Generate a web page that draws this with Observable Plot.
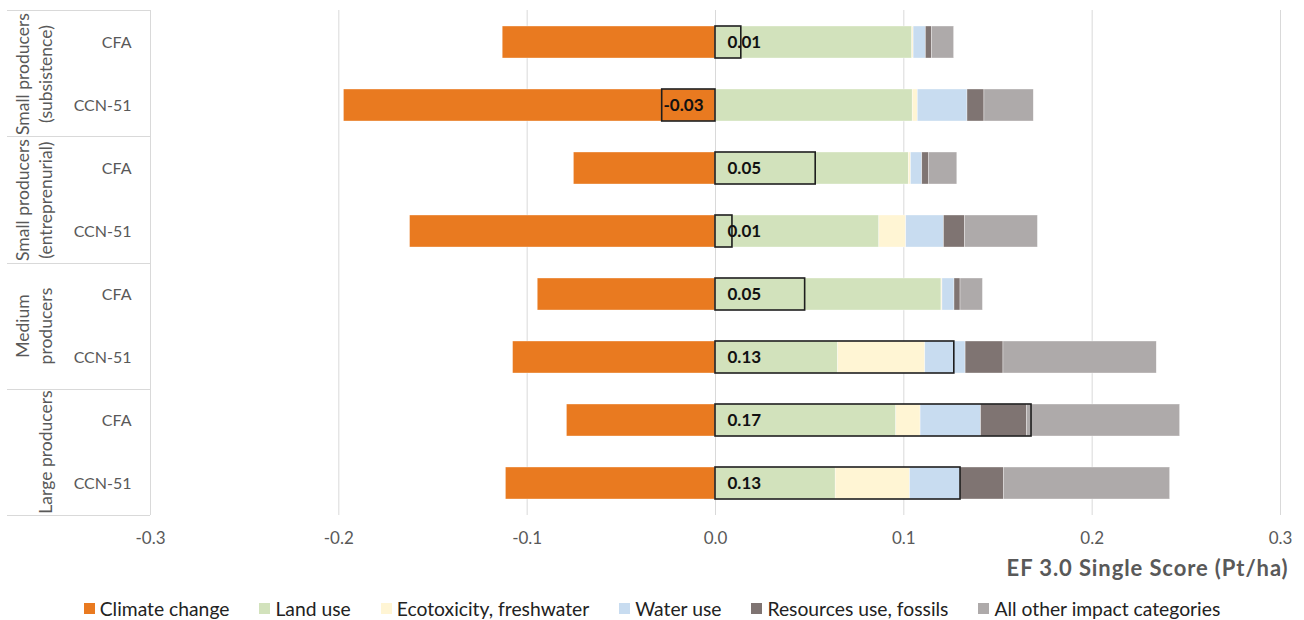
<!DOCTYPE html>
<html>
<head>
<meta charset="utf-8">
<script src="https://cdn.jsdelivr.net/npm/d3@7"></script>
<script src="https://cdn.jsdelivr.net/npm/@observablehq/plot@0.6"></script>
<style>
  html, body { margin: 0; padding: 0; background: #fff; }
  body { width: 1304px; height: 620px; overflow: hidden; font-family: Lato, "Open Sans", sans-serif; }
  #legend { display: flex; justify-content: center; align-items: center; height: 30px; padding-top: 3px; gap: 30px; font-size: 19.3px; color: #222; }
  #legend .item { display: flex; align-items: center; white-space: nowrap; }
  #legend .sw { width: 11px; height: 11px; margin-right: 5px; display: inline-block; }
</style>
</head>
<body>
<div id="chart"></div>
<div id="legend"></div>
<script>
// ---------- data ----------
const groups = ["Small producers\n(subsistence)", "Small producers\n(entreprenurial)", "Medium\nproducers", "Large producers"];
const varieties = ["CFA", "CCN-51"];
const categories = ["Climate change", "Land use", "Ecotoxicity, freshwater", "Water use", "Resources use, fossils", "All other impact categories"];
const colors = ["#E97A20", "#D2E2BC", "#FFF5D4", "#C8DCF0", "#7F7472", "#AEAAAA"];

// one value per row (group x variety, top to bottom)
const climateChange = [-0.1130, -0.1973, -0.0752, -0.1622, -0.0944, -0.1075, -0.0789, -0.1113];
const landUse       = [ 0.1045,  0.1047,  0.1026,  0.0870,  0.1200,  0.0651,  0.0960,  0.0638];
const ecotoxicity   = [ 0.0007,  0.0027,  0.0012,  0.0143,  0.0005,  0.0463,  0.0129,  0.0395];
const waterUse      = [ 0.0065,  0.0264,  0.0060,  0.0200,  0.0064,  0.0214,  0.0321,  0.0267];
const fossils       = [ 0.0033,  0.0090,  0.0037,  0.0111,  0.0032,  0.0201,  0.0245,  0.0233];
const allOther      = [ 0.0117,  0.0262,  0.0149,  0.0388,  0.0119,  0.0814,  0.0812,  0.0881];

const xTicks = [-0.3, -0.2, -0.1, 0, 0.1, 0.2, 0.3];
const xTickLabels = ["-0.3", "-0.2", "-0.1", "0.0", "0.1", "0.2", "0.3"];
const axisTitle = "EF 3.0 Single Score (Pt/ha)";

// ---------- derived tables ----------
const series = [climateChange, landUse, ecotoxicity, waterUse, fossils, allOther];
const rows = [];
groups.forEach((g, gi) => varieties.forEach((v, vi) => rows.push({key: gi + "|" + v, group: g, variety: v})));
const rowKeys = rows.map(r => r.key);

const long = [];
rows.forEach((r, i) => categories.forEach((c, ci) => long.push({row: r.key, category: c, value: series[ci][i]})));

const net = rows.map((r, i) => ({row: r.key, net: d3.sum(series, s => s[i])}));
const groupData = groups.map((g, gi) => ({label: g, first: rows.find(r => r.group === g).key}));

// ---------- layout ----------
const W = 1304, H = 590, MT = 10, MB = 75, ML = 150, MR = 24;
const step = (H - MT - MB) / rowKeys.length;
const gray = "#595959";

function leftPanel(index, scales, values, dims) {
  const top = dims.marginTop, bottom = dims.height - dims.marginBottom, left = dims.marginLeft;
  const st = (bottom - top) / rowKeys.length;
  const g = d3.create("svg:g").attr("stroke", "#D9D9D9").attr("stroke-width", 1);
  let cum = 0;
  const bounds = [0];
  groups.forEach(gr => { cum += rows.filter(r => r.group === gr).length; bounds.push(cum); });
  for (const b of bounds) {
    const y = Math.round(top + b * st) + 0.5;
    g.append("line").attr("x1", 7).attr("x2", left).attr("y1", y).attr("y2", y);
  }
  g.append("line").attr("x1", left + 0.5).attr("x2", left + 0.5).attr("y1", top).attr("y2", bottom);
  return g.node();
}

const chart = Plot.plot({
  width: W, height: H,
  marginTop: MT, marginBottom: MB, marginLeft: ML, marginRight: MR,
  style: {fontFamily: "Lato, 'Open Sans', sans-serif", fontSize: "17px", color: gray, background: "#fff"},
  x: {domain: [-0.3, 0.3]},
  y: {domain: rowKeys, paddingInner: 0.49, paddingOuter: 0.245},
  color: {domain: categories, range: colors},
  marks: [
    Plot.gridX({ticks: xTicks, stroke: "#D9D9D9", strokeOpacity: 1, strokeWidth: 1}),
    leftPanel,
    Plot.barX(long, {y: "row", x: "value", fill: "category", order: categories, stroke: "#fff", strokeWidth: 0.5, strokeOpacity: 0.7}),
    Plot.barX(net, {y: "row", x1: d => 0, x2: "net", fill: "none", stroke: "#1E1E1E", strokeWidth: 1.6}),
    Plot.text(net.filter(d => d.net >= 0), {y: "row", x: d => 0, text: d => d.net.toFixed(2), textAnchor: "start", dx: 12, fontWeight: "bold", fontSize: 17, fill: "#111"}),
    Plot.text(net.filter(d => d.net < 0), {y: "row", x: d => 0, text: d => d.net.toFixed(2), textAnchor: "end", dx: -12, fontWeight: "bold", fontSize: 17, fill: "#111"}),
    Plot.axisX({ticks: xTicks, tickFormat: d => xTickLabels[xTicks.indexOf(d)], tickSize: 0, tickPadding: 16, fontSize: 17, label: null}),
    Plot.axisY({tickSize: 0, tickPadding: 19, fontSize: 16, tickFormat: k => rows.find(r => r.key === k).variety, label: null}),
    Plot.text(groupData, {y: "first", text: "label", frameAnchor: "left", dx: -99, dy: step / 2, rotate: -90, textAnchor: "middle", lineAnchor: "bottom", lineHeight: 1.3, fontSize: 17.5, fill: gray}),
    Plot.text([axisTitle], {text: d => d, frameAnchor: "bottom-right", dx: 8, dy: 60, textAnchor: "end", fontWeight: "bold", fontSize: 22, fill: gray, style: {letterSpacing: "1px"}})
  ]
});
document.getElementById("chart").appendChild(chart);

// apply letter spacing to axis title (Plot text style passthrough)
d3.select(chart).selectAll("text").filter(function() { return this.textContent === axisTitle; }).style("letter-spacing", "0.9px");

// legend
const legend = document.getElementById("legend");
categories.forEach((c, i) => {
  const item = document.createElement("span");
  item.className = "item";
  const sw = document.createElement("span");
  sw.className = "sw";
  sw.style.background = colors[i];
  item.appendChild(sw);
  item.appendChild(document.createTextNode(c));
  legend.appendChild(item);
});
</script>
</body>
</html>
